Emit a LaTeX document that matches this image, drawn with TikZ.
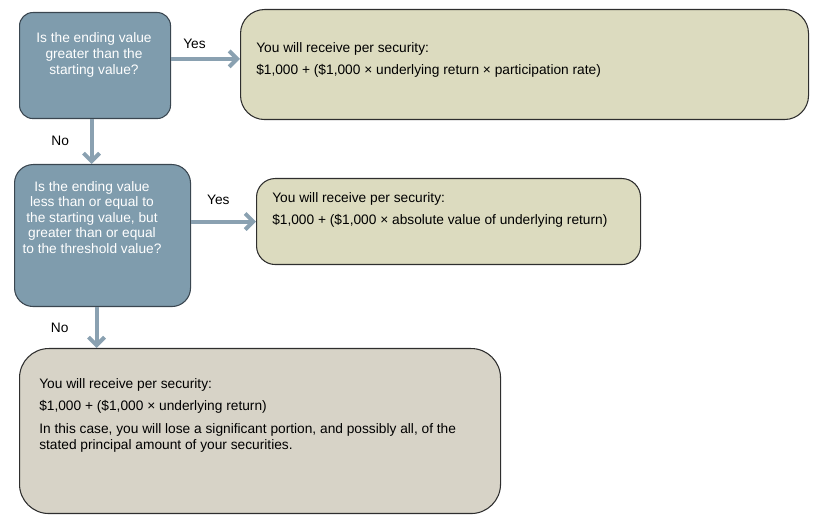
\documentclass[tikz,border=0pt]{standalone}
\usepackage{fontspec}
\setmainfont{Liberation Sans}
\usetikzlibrary{arrows.meta, positioning, calc}

\definecolor{qfill}{HTML}{7F9CAD}
\definecolor{qline}{HTML}{3A4650}
\definecolor{afill}{HTML}{DCDBBF}
\definecolor{lossfill}{HTML}{D7D3C7}
\definecolor{aline}{HTML}{2E2E2E}
\definecolor{flowc}{HTML}{8AA1B1}

\tikzset{
  qbox/.style={draw=qline, fill=qfill, line width=0.8pt, inner sep=0pt, anchor=north west},
  abox/.style={draw=aline, fill=afill, line width=0.8pt, inner sep=0pt, anchor=north west},
  qtext/.style={text=white, align=center, inner sep=0pt, anchor=north, font=\fontsize{10.3}{12}\selectfont},
  atext/.style={align=left, inner sep=0pt, anchor=north west, font=\fontsize{10.3}{12}\selectfont},
  lbl/.style={inner sep=0pt, font=\fontsize{10.3}{12}\selectfont},
  flow/.style={draw=flowc, line width=3pt, -{Straight Barb[length=6pt,width=12pt]}}
}

\begin{document}
\begin{tikzpicture}[x=0.75pt, y=-0.75pt]
  \useasboundingbox (0,0) rectangle (822,527);

  % questions
  \node[qbox, rounded corners=10pt, minimum width=113.25pt, minimum height=79.5pt] (q1) at (19,12) {};
  \node[qbox, rounded corners=14pt, minimum width=132pt, minimum height=106.5pt] (q2) at (14,164) {};

  % outcomes
  \node[abox, rounded corners=18pt, minimum width=426pt, minimum height=82.5pt] (a1) at (240,9) {};
  \node[abox, rounded corners=14pt, minimum width=288pt, minimum height=64.5pt] (a2) at (256,178) {};
  \node[abox, fill=lossfill, rounded corners=22pt, minimum width=360.75pt, minimum height=123.75pt] (a3) at (19,348) {};

  \node[qtext] (q1txt) at (94,32) {Is the ending value\\greater than the\\starting value?};
  \node[qtext, font=\fontsize{10.3}{11.6}\selectfont] (q2txt) at (92,181)
    {Is the ending value\\less than or equal to\\the starting value, but\\greater than or equal\\to the threshold value?};

  \node[atext] (a1txt) at (256,42)
    {You will receive per security:\\[4.5pt]\$1,000 + (\$1,000 × underlying return × participation rate)};
  \node[atext] (a2txt) at (272,192)
    {You will receive per security:\\[4.5pt]\$1,000 + (\$1,000 × absolute value of underlying return)};
  \node[atext] (a3txt) at (39,378)
    {You will receive per security:\\[5pt]\$1,000 + (\$1,000 × underlying return)\\[5pt]In this case, you will lose a significant portion, and possibly all, of the\\stated principal amount of your securities.};

  % connectors
  \draw[flow] ([yshift=5pt]q1.east) -- ([yshift=5pt]q1.east -| a1.west)
    node[lbl, pos=0.34, above=6pt] {Yes};
  \draw[flow] (q2.east |- a2.west) -- (a2.west)
    node[lbl, pos=0.42, above=11pt] {Yes};
  \draw[flow] ([xshift=-2.6pt]q1.south) -- ([xshift=-2.6pt]q1.south |- q2.north)
    node[lbl, pos=0.48, left=15.5pt] {No};
  \draw[flow] ([xshift=-4.5pt]q2.south) -- ([xshift=-4.5pt]q2.south |- a3.north)
    node[lbl, pos=0.5, left=19.5pt] {No};
\end{tikzpicture}
\end{document}
